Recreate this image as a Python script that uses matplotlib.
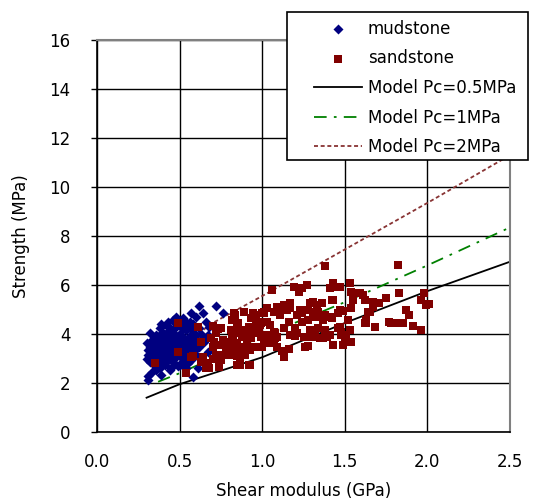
import numpy as np
import matplotlib
matplotlib.use("Agg")
import matplotlib.pyplot as plt
from matplotlib.patches import Rectangle

# ---- data ----
mud_x = [0.31, 0.32, 0.38, 0.48, 0.62, 0.57, 0.72, 0.76, 0.64, 0.66, 0.68, 0.67, 0.65, 0.67,
         0.60, 0.57, 0.54, 0.58, 0.44, 0.39, 0.33, 0.30, 0.31, 0.30, 0.33, 0.36, 0.42, 0.46,
         0.52, 0.56, 0.60, 0.55, 0.62, 0.59, 0.56, 0.52, 0.62, 0.56,
         0.31, 0.35, 0.32, 0.31, 0.32, 0.34, 0.35, 0.36, 0.37, 0.38, 0.37, 0.39, 0.40, 0.40,
         0.41, 0.41, 0.42, 0.42, 0.43, 0.43, 0.44, 0.44, 0.45, 0.45, 0.46, 0.46, 0.47, 0.47,
         0.48, 0.48, 0.49, 0.49, 0.50, 0.50, 0.51, 0.51, 0.52, 0.53, 0.53, 0.54, 0.55, 0.55,
         0.57, 0.58, 0.58, 0.60, 0.61, 0.63, 0.35, 0.34, 0.33, 0.36, 0.38, 0.39, 0.40, 0.41,
         0.43, 0.44, 0.45, 0.46, 0.47, 0.48, 0.49, 0.50, 0.51, 0.52, 0.53, 0.54, 0.56, 0.57,
         0.59, 0.61, 0.64, 0.42, 0.45, 0.47, 0.50, 0.36, 0.34, 0.39, 0.43, 0.53, 0.58,
         0.33, 0.37, 0.40, 0.44, 0.47, 0.50, 0.38, 0.42, 0.46, 0.35,
         0.32, 0.34, 0.36, 0.38, 0.40, 0.41, 0.43, 0.45, 0.48, 0.50, 0.52, 0.54, 0.56, 0.59,
         0.37, 0.39, 0.42, 0.44, 0.46, 0.49, 0.51, 0.55, 0.60, 0.63, 0.33, 0.40, 0.45, 0.53]
mud_y = [2.12, 4.03, 4.23, 4.68, 5.14, 4.84, 5.14, 4.84, 4.84, 4.50, 4.30, 3.96, 3.69, 3.28,
         3.14, 2.94, 2.60, 2.23, 2.53, 2.33, 2.46, 3.00, 3.35, 3.62, 3.76, 3.96, 4.37, 4.57,
         4.64, 4.50, 4.71, 4.30, 4.23, 3.96, 3.76, 3.48, 3.48, 3.42,
         2.30, 2.70, 2.85, 3.15, 3.45, 3.25, 3.55, 3.05, 2.90, 3.30, 3.70, 3.85, 3.10, 3.50,
         2.75, 3.95, 3.30, 3.65, 2.95, 4.10, 3.45, 3.80, 3.15, 4.20, 2.85, 3.60, 3.35, 3.95,
         3.05, 4.30, 3.70, 2.70, 3.25, 4.00, 3.55, 4.40, 2.90, 3.80, 3.15, 4.15, 3.60, 2.80,
         3.25, 4.05, 3.55, 3.80, 2.60, 4.00, 3.85, 2.95, 3.55, 3.40, 2.60, 3.60, 4.05, 3.20,
         3.55, 3.00, 3.70, 4.05, 3.10, 3.50, 3.90, 3.10, 3.75, 4.20, 3.40, 3.00, 3.90, 4.20,
         3.30, 3.65, 3.85, 2.85, 2.60, 4.45, 2.75, 2.55, 3.45, 4.40, 4.50, 4.55, 4.40,
         3.20, 3.45, 3.75, 3.25, 3.80, 3.45, 3.95, 4.00, 3.30, 3.15,
         3.30, 3.65, 3.20, 3.95, 3.35, 3.75, 3.20, 3.50, 3.85, 3.60, 3.05, 3.50, 3.15, 3.70,
         3.10, 2.95, 4.00, 4.20, 3.20, 3.30, 3.90, 3.35, 3.95, 3.60, 2.95, 2.90, 3.90, 3.65]

sand_x = [0.49, 0.49, 0.35, 0.61, 0.63, 0.54, 0.57, 0.58, 0.70, 0.69, 0.71, 0.73, 0.70, 0.64,
          0.63, 0.66, 0.68, 0.67, 0.70, 0.75, 0.74, 0.72, 0.76, 0.80, 0.78, 0.81, 0.845, 0.80,
          0.76, 0.825, 0.72, 0.73, 0.75, 0.835, 0.855, 0.895, 0.885, 0.905, 0.925, 0.865, 0.845,
          0.895, 0.925, 0.945, 0.965, 0.995, 1.01, 1.06, 1.09, 1.13, 1.15, 1.02, 1.08, 1.13, 1.08,
          1.13, 0.92, 0.865, 0.845, 1.28, 1.05, 1.38, 1.82, 1.41, 1.46, 1.27, 1.22, 1.19, 1.24,
          1.31, 1.29, 1.36, 1.42, 1.34, 1.38, 1.41, 1.37, 1.32, 1.28, 1.24, 1.21, 1.17, 1.11,
          1.07, 1.03, 1.00, 0.96, 0.93, 0.89, 0.83, 1.11, 1.16, 1.24, 1.00, 1.03, 1.05, 0.96,
          0.92, 0.85, 0.82, 0.81, 0.88, 0.98, 1.07, 1.13, 1.20, 1.29, 1.34, 1.38, 1.32, 1.35,
          1.39, 1.46, 1.48, 1.50, 1.53, 1.47, 1.57, 1.62, 1.67, 1.70, 1.75, 1.64, 1.67, 1.77,
          1.81, 1.85, 1.91, 1.96, 1.98, 1.99, 2.01, 1.87, 1.89, 1.68, 1.63, 1.62, 1.83, 0.875,
          0.91, 0.99, 1.03, 1.06, 1.09, 1.21, 1.25, 1.30, 1.01, 1.07, 1.37, 1.41, 1.17, 1.20,
          1.00, 1.02, 1.09, 0.95, 0.875, 0.895, 0.835, 0.845, 0.93, 0.97, 0.835, 0.815, 0.935,
          0.985, 0.945, 1.01, 1.17, 1.23, 1.28, 1.33, 1.31, 1.49, 1.54, 1.51, 1.43, 0.80,
          1.96, 1.91, 1.84, 1.78, 1.71, 1.68, 1.65, 1.63, 1.61, 1.59, 1.54, 1.55, 1.53, 1.47,
          1.43, 1.43, 1.54, 1.49, 1.52, 1.46, 1.47, 1.48, 1.42, 1.16, 1.12, 1.26]
sand_y = [4.46, 3.28, 2.80, 4.30, 3.69, 2.40, 3.07, 3.10, 4.33, 3.82, 3.69, 3.55, 3.48, 3.07,
          2.87, 2.60, 2.60, 2.80, 3.00, 2.94, 2.67, 3.14, 3.14, 3.14, 3.42, 3.35, 3.48, 3.69,
          3.76, 3.76, 4.03, 4.19, 4.23, 4.78, 4.44, 4.16, 3.96, 3.69, 3.35, 3.07, 2.73,
          3.14, 2.73, 4.78, 4.44, 4.44, 4.84, 5.80, 5.11, 5.18, 4.98, 3.96, 4.03, 4.23, 3.82,
          3.05, 2.73, 2.73, 3.10, 3.51, 4.37, 6.78, 6.82, 5.86, 5.90, 6.00, 5.73, 5.91, 5.86,
          5.32, 5.28, 5.28, 5.39, 4.91, 4.78, 4.71, 4.57, 4.71, 4.57, 4.84, 4.78, 5.25, 5.11,
          4.91, 5.05, 4.84, 4.78, 4.64, 4.91, 4.84, 4.78, 4.50, 4.50, 4.50, 4.50, 4.37, 4.44,
          4.30, 4.37, 4.57, 4.16, 4.16, 4.16, 4.09, 4.23, 4.23, 4.16, 4.23, 4.16, 3.96, 3.82,
          3.89, 4.23, 3.96, 3.78, 4.16, 4.98, 5.66, 5.39, 5.32, 5.25, 5.46, 4.91, 5.11, 4.50,
          4.44, 4.46, 4.33, 4.16, 5.69, 5.18, 5.22, 4.98, 4.78, 4.30, 4.57, 4.44, 5.66, 3.86,
          3.96, 3.89, 3.82, 3.78, 3.89, 4.05, 3.89, 3.86, 3.69, 3.65, 3.82, 3.96, 3.96, 3.92,
          3.48, 3.65, 3.48, 3.48, 3.35, 3.48, 3.42, 3.62, 3.82, 4.03, 4.03, 3.89, 4.16,
          4.37, 4.87, 4.91, 5.05, 4.98, 4.98, 5.18, 4.91, 3.55, 3.69, 3.96, 3.55, 3.35,
          5.39, 4.33, 4.46, 4.46, 5.28, 4.27, 4.91, 4.46, 5.59, 5.69, 5.73, 5.39, 6.09, 5.91,
          6.09, 5.39, 5.05, 4.94, 4.57, 4.87, 4.30, 4.09, 4.64, 3.40, 3.30, 3.45]

model_x = [0.30, 0.50, 1.00, 1.50, 2.00, 2.50]
model_05 = [1.40, 1.95, 3.05, 4.45, 5.75, 6.95]
model1_x = [0.37, 0.50, 0.80, 1.00, 1.50, 2.00, 2.50]
model_1 = [2.05, 2.40, 3.30, 3.90, 5.30, 6.80, 8.35]
model2_x = [0.45, 0.70, 1.00, 1.50, 2.00, 2.50]
model_2 = [3.20, 4.45, 5.55, 7.45, 9.35, 11.30]

plt.rcParams['font.family'] = ['DejaVu Sans']

fig = plt.figure(figsize=(5.4, 5.0), dpi=100)
ax = fig.add_axes([97 / 540, 68 / 500, 413 / 540, 392 / 500])

ax.plot(model_x, model_05, color='black', lw=1.3, label='Model Pc=0.5MPa', zorder=2)
ax.plot(model1_x, model_1, color='#008000', lw=1.3, dashes=(7, 4, 1.5, 4),
        label='Model Pc=1MPa', zorder=2)
ax.plot(model2_x, model_2, color='#883333', lw=1.3, dashes=(2.2, 1.5),
        label='Model Pc=2MPa', zorder=2)
ax.scatter(mud_x, mud_y, marker='D', s=26, color='#000080', linewidths=0,
           label='mudstone', zorder=3)
ax.scatter(sand_x, sand_y, marker='s', s=28, color='#800000', linewidths=0,
           label='sandstone', zorder=4)

ax.set_xlim(0, 2.5)
ax.set_ylim(0, 16)
ax.set_xticks(np.arange(0, 2.51, 0.5))
ax.set_xticklabels([f"{v:.1f}" for v in np.arange(0, 2.51, 0.5)])
ax.set_yticks(range(0, 17, 2))
ax.tick_params(axis='y', direction='out', length=4, width=1, pad=15, labelsize=12)
ax.tick_params(axis='x', length=0, pad=15, labelsize=12)
ax.grid(True, color='black', lw=1)
ax.set_axisbelow(True)
for side in ('left', 'bottom'):
    ax.spines[side].set_color('black')
    ax.spines[side].set_linewidth(1.2)
for side in ('top', 'right'):
    ax.spines[side].set_color('#808080')
    ax.spines[side].set_linewidth(1.5)

ax.set_xlabel('Shear modulus (GPa)', fontsize=12, labelpad=8)
ax.set_ylabel('Strength (MPa)', fontsize=12, labelpad=14)

# legend frame sticks out past the axes, so draw it separately
fig.patches.append(Rectangle((287 / 540, 1 - 160 / 500), 241 / 540, 148 / 500,
                             transform=fig.transFigure, facecolor='white',
                             edgecolor='black', lw=1.2, zorder=4))
h, l = ax.get_legend_handles_labels()
order = [3, 4, 0, 1, 2]
leg = fig.legend([h[i] for i in order], [l[i] for i in order], loc='upper left',
                 bbox_to_anchor=(302 / 540, 1 - 8 / 500), frameon=False, fontsize=12,
                 handlelength=2.9, handletextpad=0.35, labelspacing=0.7,
                 borderpad=0.2, scatterpoints=1)
leg.set_zorder(5)

fig.savefig('out.png', dpi=100)
